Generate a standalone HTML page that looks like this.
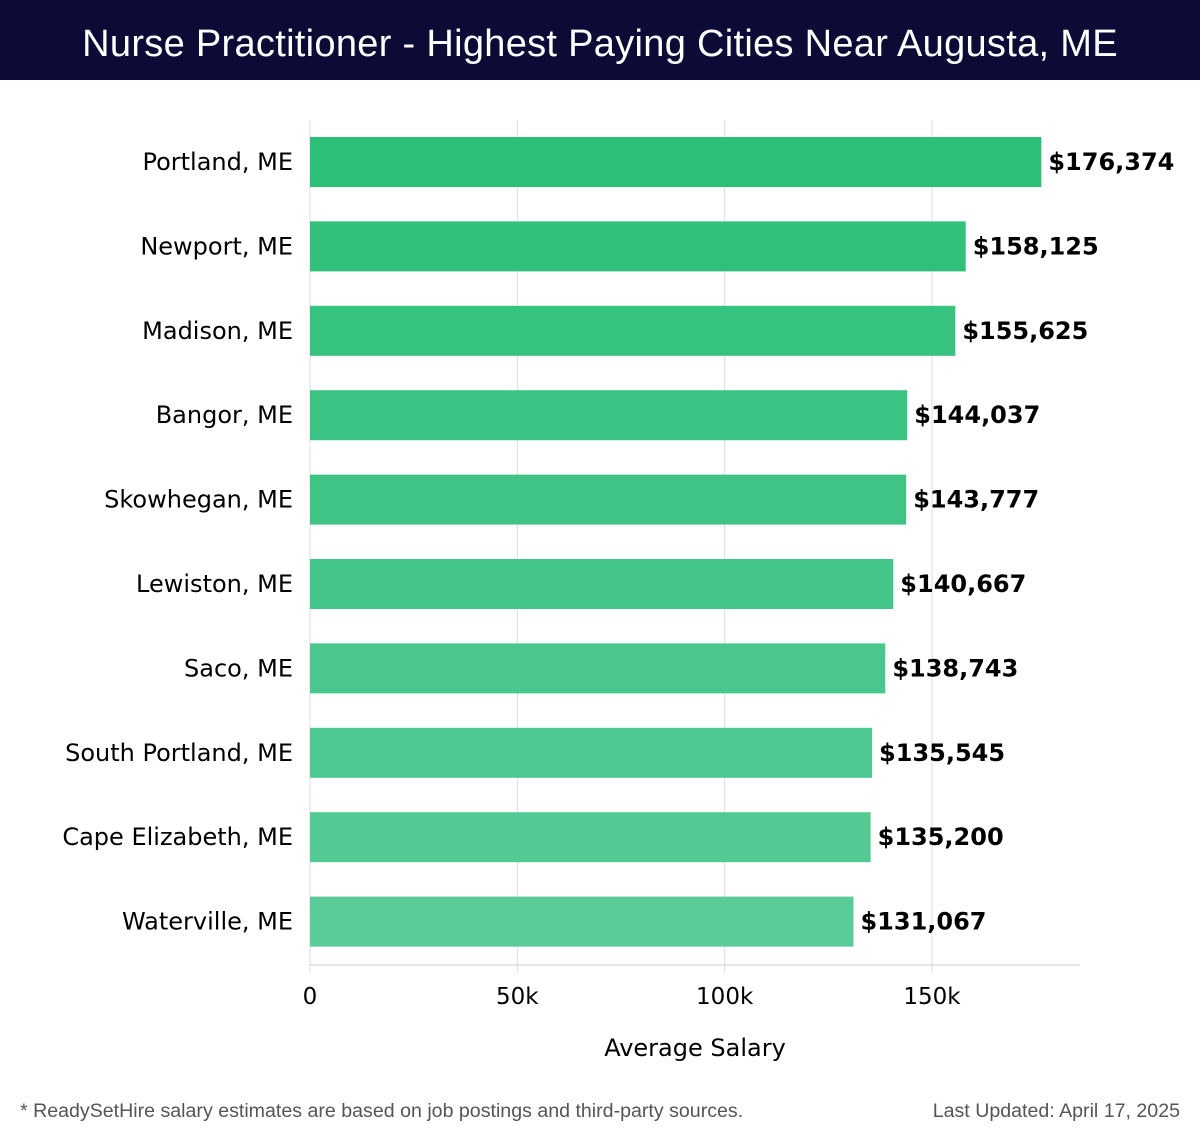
<!DOCTYPE html>
<html><head><meta charset="utf-8"><style>
body{margin:0;width:1200px;height:1140px;background:#fff;overflow:hidden;font-family:"DejaVu Sans","Liberation Sans",sans-serif}
#title{position:absolute;left:0;top:0;width:1200px;height:80px;background:#0c0b35;color:#fff;font:38px "Liberation Sans",sans-serif;text-align:center;line-height:88px;letter-spacing:0.3px}
.foot{position:absolute;top:1100px;font:19.6px "Liberation Sans",sans-serif;color:#555}
</style></head><body>
<div id="title">Nurse Practitioner - Highest Paying Cities Near Augusta, ME</div>
<svg id="chart" width="1200" height="1140" style="position:absolute;left:0;top:0"></svg>
<div class="foot" style="left:20px">* ReadySetHire salary estimates are based on job postings and third-party sources.</div>
<div class="foot" style="right:20px">Last Updated: April 17, 2025</div>
<script>
const cities=["Portland, ME","Newport, ME","Madison, ME","Bangor, ME","Skowhegan, ME","Lewiston, ME","Saco, ME","South Portland, ME","Cape Elizabeth, ME","Waterville, ME"];
const salaries=[176374,158125,155625,144037,143777,140667,138743,135545,135200,131067];
const ticks=[0,50000,100000,150000];
const tickLabels=["0","50k","100k","150k"];
const NS="http://www.w3.org/2000/svg";
const svg=document.getElementById('chart');
const x0=310,pxPer=(932-310)/150000,topY=120,step=84.4,barH=50,axisY=965;
const xs=v=>x0+v*pxPer;
const yc=i=>topY+42+i*step;
function mk(t,a){const e=document.createElementNS(NS,t);for(const k in a)e.setAttribute(k,a[k]);svg.appendChild(e);return e;}
ticks.forEach((t,i)=>{
 const g=mk('line',{x1:xs(t),x2:xs(t),y1:topY,y2:axisY+8,stroke:'#ddd','stroke-width':1});
 
 
 const l=mk('text',{x:xs(t),y:1004,'text-anchor':'middle','font-size':23,fill:'#000'});
 l.textContent=tickLabels[i];
 
 
});
const ax=mk('line',{x1:x0,x2:1080,y1:axisY,y2:axisY,stroke:'#ccc','stroke-width':1});


const c0=[44,191,120],c1=[88,203,152];
salaries.forEach((v,i)=>{
 const f=i/(salaries.length-1);
 const col=`rgb(${c0.map((c,k)=>Math.round(c+(c1[k]-c)*f)).join(',')})`;
 const r=mk('rect',{x:x0,y:yc(i)-barH/2,width:xs(v)-x0,height:barH,fill:col});
 
 
 const lb=mk('text',{x:293,y:yc(i)+8,'text-anchor':'end','font-size':24,fill:'#000'});
 lb.textContent=cities[i];
 
 
 const vl=mk('text',{x:xs(v)+7,y:yc(i)+8,'font-size':24,'font-weight':'bold',fill:'#000'});
 vl.textContent='$'+v.toLocaleString('en-US');
 
 
});
const at=mk('text',{x:695,y:1056,'text-anchor':'middle','font-size':24,fill:'#000'});
at.textContent='Average Salary';


</script>
</body></html>
